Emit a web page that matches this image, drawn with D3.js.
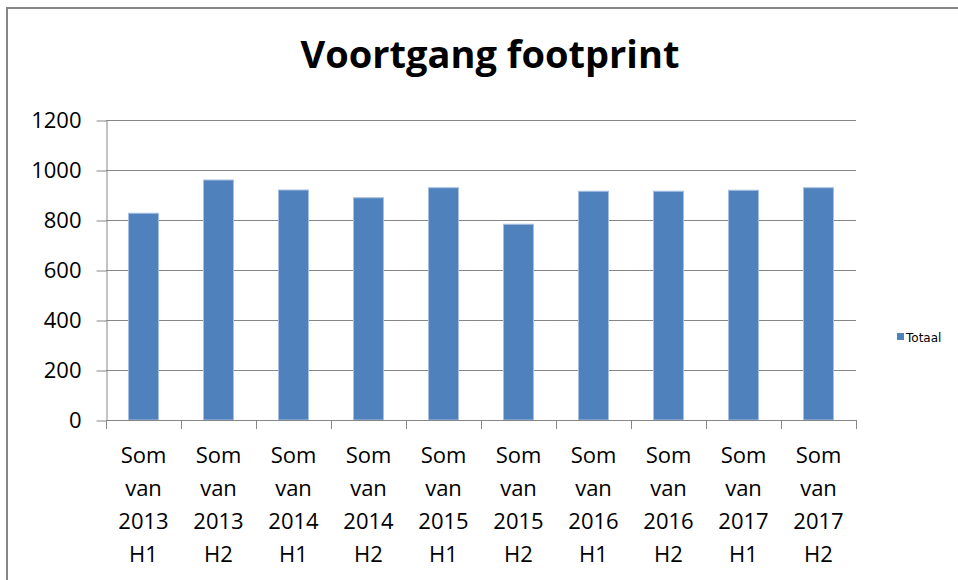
<!DOCTYPE html>
<html>
<head>
<meta charset="utf-8">
<script src="https://cdn.jsdelivr.net/npm/d3@7"></script>
<style>
  body { margin: 0; background: #fff; }
  svg { display: block; }
</style>
</head>
<body>
<div class="graph"></div>
<script>
(function(){
'use strict';

var title = "Voortgang footprint";
var seriesName = "Totaal";
var categories = [
  ["Som", "van", "2013", "H1"],
  ["Som", "van", "2013", "H2"],
  ["Som", "van", "2014", "H1"],
  ["Som", "van", "2014", "H2"],
  ["Som", "van", "2015", "H1"],
  ["Som", "van", "2015", "H2"],
  ["Som", "van", "2016", "H1"],
  ["Som", "van", "2016", "H2"],
  ["Som", "van", "2017", "H1"],
  ["Som", "van", "2017", "H2"]
];
var values = [827, 960, 920, 889, 929, 783, 915, 915, 919, 929];
var yTicks = [0, 200, 400, 600, 800, 1000, 1200];

var width = 958, height = 580;
var left = 106, right = 856, top = 120, bottom = 420;
var barColor = "#4f81bd";
var lineColor = "#868686";
var font = "'Open Sans', sans-serif";

var svg = d3.select(".graph").append("svg")
  .attr("width", width)
  .attr("height", height);

// chart frame (runs off the right and bottom edge)
svg.append("rect")
  .attr("x", 7).attr("y", 8)
  .attr("width", 990).attr("height", 620)
  .attr("fill", "#fff")
  .attr("stroke", lineColor)
  .attr("stroke-width", 2);

var keys = categories.map(function(c) { return c.join(" "); });

var x = d3.scaleBand()
  .domain(keys)
  .range([left, right])
  .paddingInner(0.6)
  .paddingOuter(0.3);

var xBand = d3.scaleBand().domain(keys).range([left, right]);

var y = d3.scaleLinear()
  .domain([0, 1200])
  .range([bottom, top]);

// gridlines
svg.append("g")
  .selectAll("line")
  .data(yTicks.filter(function(d) { return d > 0; }))
  .enter().append("line")
  .attr("x1", left).attr("x2", right)
  .attr("y1", function(d) { return y(d) + 0.5; })
  .attr("y2", function(d) { return y(d) + 0.5; })
  .attr("stroke", lineColor)
  .attr("stroke-width", 1);

// y axis
var yAxis = svg.append("g")
  .attr("transform", "translate(" + (left + 0.5) + ",0.5)")
  .call(d3.axisLeft(y).tickValues(yTicks).tickFormat(d3.format("d"))
    .tickSize(10).tickPadding(15).tickSizeOuter(0));
yAxis.select(".domain").attr("stroke", lineColor);
yAxis.selectAll(".tick line").attr("stroke", lineColor);
yAxis.selectAll(".tick text")
  .attr("font-family", font)
  .attr("font-size", "22px")
  .attr("fill", "#000");

// bars
svg.append("g")
  .selectAll("rect")
  .data(values)
  .enter().append("rect")
  .attr("x", function(d, i) { return x(keys[i]); })
  .attr("y", function(d) { return y(d); })
  .attr("width", x.bandwidth())
  .attr("height", function(d) { return y(0) - y(d); })
  .attr("fill", barColor)
  .attr("stroke", "#a7bfe0")
  .attr("stroke-width", 1);

// x axis line and ticks at category boundaries
var xg = svg.append("g");
xg.append("line")
  .attr("x1", left).attr("x2", right)
  .attr("y1", bottom + 0.5).attr("y2", bottom + 0.5)
  .attr("stroke", lineColor);
var bounds = keys.map(function(k) { return xBand(k); }).concat([right]);
xg.selectAll("line.tick")
  .data(bounds)
  .enter().append("line")
  .attr("class", "tick")
  .attr("x1", function(d) { return d + 0.5; })
  .attr("x2", function(d) { return d + 0.5; })
  .attr("y1", bottom).attr("y2", bottom + 9)
  .attr("stroke", lineColor);

var labels = xg.selectAll("text")
  .data(categories)
  .enter().append("text")
  .attr("x", function(d, i) { return xBand(keys[i]) + xBand.bandwidth() / 2; })
  .attr("y", bottom + 43)
  .attr("text-anchor", "middle")
  .attr("font-family", font)
  .attr("font-size", "22px")
  .attr("fill", "#000");
labels.selectAll("tspan")
  .data(function(d) { return d; })
  .enter().append("tspan")
  .attr("x", function() { return d3.select(this.parentNode).attr("x"); })
  .attr("dy", function(d, i) { return i === 0 ? 0 : 33; })
  .text(function(d) { return d; });

// title
svg.append("text")
  .attr("x", 490)
  .attr("y", 68)
  .attr("text-anchor", "middle")
  .attr("font-family", font)
  .attr("font-weight", "bold")
  .attr("font-size", "38px")
  .attr("fill", "#000")
  .text(title);

// legend
var legend = svg.append("g").attr("transform", "translate(897,333)");
legend.append("rect")
  .attr("width", 7).attr("height", 7)
  .attr("fill", barColor);
legend.append("text")
  .attr("x", 9).attr("y", 8.5)
  .attr("font-family", "'DejaVu Sans', sans-serif")
  .attr("font-size", "12px")
  .attr("fill", "#000")
  .text(seriesName);

})();
</script>
</body>
</html>
